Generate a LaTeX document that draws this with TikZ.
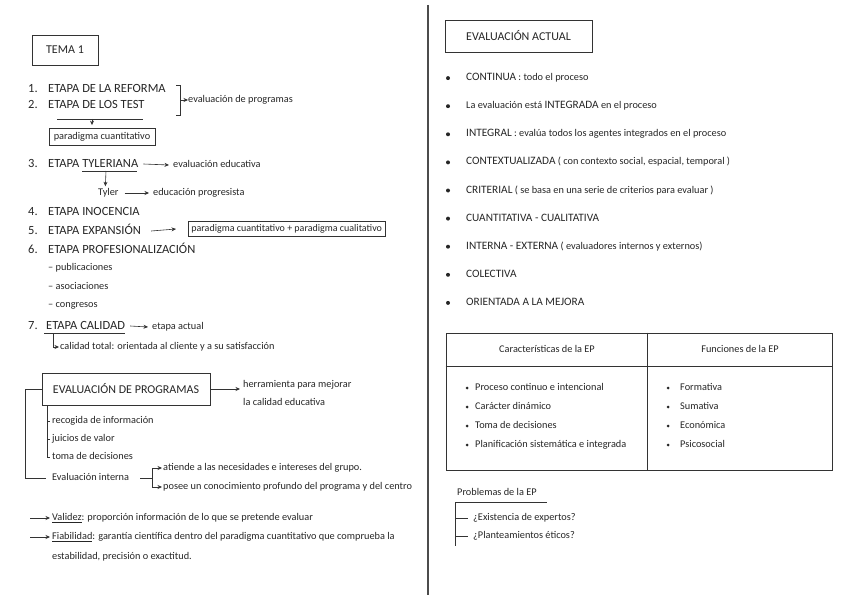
\documentclass[tikz,border=0pt]{standalone}
\usepackage{fontspec}
\setmainfont{Carlito}
\usetikzlibrary{arrows.meta,positioning}

\newcommand{\mayus}[1]{{\fontsize{11.3}{13}\selectfont #1}}

\begin{document}
\begin{tikzpicture}[x=1pt,y=-1pt,
  etapa/.style={anchor=west, inner sep=0pt, text=black!85, font=\fontsize{12.5}{14}\selectfont, text height=8.5pt, text depth=2.5pt},
  txt/.style={anchor=west, inner sep=0pt, text=black!85, font=\fontsize{10.3}{12}\selectfont, text height=7pt, text depth=2pt},
  box/.style={draw=black!80, line width=0.8pt, inner sep=0pt, text=black!85},
  ln/.style={draw=black!80, line width=0.6pt},
  arr/.style={ln, -{Stealth[length=4.5pt,width=4pt]}},
  dot/.style={circle, fill=black!85, inner sep=0pt, minimum size=4pt},
  sdot/.style={circle, fill=black!85, inner sep=0pt, minimum size=3pt}]
\useasboundingbox (0,0) rectangle (848,599);

% page divider
\coordinate (top) at (428,5);
\coordinate (bot) at (428,595);
\draw[line width=1.5pt, black!70] (top) -- (bot);

% ---- left column ----
\node[box, minimum width=66pt, minimum height=30pt, font=\fontsize{12}{14}\selectfont] (tema) at (65,50) {TEMA 1};

\node[etapa] (n1) at (28,90) {1.};
\node[etapa] (e1) at (48,90) {ETAPA DE LA REFORMA};
\node[etapa] (n2) at (28,106) {2.};
\node[etapa] (e2) at (48,106) {ETAPA DE LOS TEST};
\node[txt] (evp) at (188,100) {evaluación de programas};
\coordinate (br) at (180,100);
\draw[ln] (176,85) -- (180,85) -- (180,115) -- (176,115);
\draw[arr] (br) -- (evp.west);

\node[box, minimum width=106pt, minimum height=17pt, font=\fontsize{10.3}{12}\selectfont] (pc) at (102,137) {paradigma cuantitativo};
\coordinate (u2) at (92,119);
\draw[ln] (57,119) -- (143,119);
\draw[arr] (u2) -- ([xshift=-10pt,yshift=3pt]pc.north);

\node[etapa] (n3) at (28,164) {3.};
\node[etapa] (e3) at (48,164) {ETAPA TYLERIANA};
\node[txt] (eved) at (173,165) {evaluación educativa};
\draw[ln] (82,171) -- (137,171);
\draw[arr] ([xshift=5pt]e3.east) -- ([xshift=-4pt]eved.west);
\node[txt] (tyler) at (98,193) {Tyler};
\node[txt] (prog) at (153,193) {educación progresista};
\coordinate (u3) at (106,171);
\draw[arr] (u3) -- ([xshift=-3pt,yshift=2pt]tyler.north);
\draw[arr] ([xshift=6pt]tyler.east) -- ([xshift=-4pt]prog.west);

\node[etapa] (n4) at (28,212) {4.};
\node[etapa] (e4) at (48,212) {ETAPA INOCENCIA};
\node[etapa] (n5) at (28,231) {5.};
\node[etapa] (e5) at (48,231) {ETAPA EXPANSIÓN};
\node[box, anchor=west, minimum height=15pt, inner xsep=3pt, font=\fontsize{10}{12}\selectfont] (pcq) at (188,229) {paradigma cuantitativo + paradigma cualitativo};
\draw[arr] ([xshift=10pt]e5.east) -- ([xshift=-12pt]pcq.west);

\node[etapa] (n6) at (28,250) {6.};
\node[etapa] (e6) at (48,250) {ETAPA PROFESIONALIZACIÓN};
\node[txt] (pub) at (48,268) {– publicaciones};
\node[txt] (aso) at (48,287) {– asociaciones};
\node[txt] (con) at (48,305) {– congresos};

\node[etapa] (n7) at (28,326) {7.};
\node[etapa] (e7) at (46,326) {ETAPA CALIDAD};
\node[txt] (act) at (152,327) {etapa actual};
\node[txt] (cal) at (60,347) {calidad total: orientada al cliente y a su satisfacción};
\draw[ln] (44,333) -- (125,333);
\draw[arr] ([xshift=5pt]e7.east) -- ([xshift=-4pt]act.west);
\coordinate (u7) at (53,333);
\draw[arr] (u7) |- ([xshift=-1pt]cal.west);

% evaluacion de programas
\node[box, minimum width=168pt, minimum height=32pt, font=\fontsize{12}{14}\selectfont] (ep) at (126,389) {EVALUACIÓN DE PROGRAMAS};
\node[txt] (herr) at (243,385) {herramienta para mejorar};
\node[txt] (herr2) at (243,403) {la calidad educativa};
\draw[arr] (ep.east) -- ([xshift=-3pt]herr.west |- ep.east);

\node[txt] (rec) at (52,421) {recogida de información};
\node[txt] (jui) at (52,439) {juicios de valor};
\node[txt] (tom) at (52,457) {toma de decisiones};
\node[txt] (evi) at (52,478) {Evaluación interna};
\coordinate (bk) at (47,405);
\draw[ln] (bk) |- ([xshift=-2pt]tom.west);
\draw[ln] (bk |- rec.west) -- ([xshift=-2pt]rec.west);
\draw[ln] (bk |- jui.west) -- ([xshift=-2pt]jui.west);
\draw[ln] (ep.west) -- (25,389) |- ([xshift=-6pt]evi.west);

\node[txt] (ati) at (163,468) {atiende a las necesidades e intereses del grupo.};
\node[txt] (pos) at (163,487) {posee un conocimiento profundo del programa y del centro};
\coordinate (fk) at (152,478);
\draw[ln] (140,478) -- (fk);
\draw[ln] (fk |- ati.west) -- (fk |- pos.west);
\draw[arr] (fk |- ati.west) -- ([xshift=-1pt]ati.west);
\draw[arr] (fk |- pos.west) -- ([xshift=-1pt]pos.west);

\node[txt] (val) at (52,518) {\underline{Validez}: proporción información de lo que se pretende evaluar};
\node[txt] (fia) at (52,537) {\underline{Fiabilidad}: garantía científica dentro del paradigma cuantitativo que comprueba la};
\node[txt] (fia2) at (52,557) {estabilidad, precisión o exactitud.};
\coordinate (va) at (30,518);
\coordinate (fa) at (30,537);
\draw[arr] (va) -- ([xshift=-2pt]val.west);
\draw[arr] (fa) -- ([xshift=-2pt]fia.west);

% ---- right column ----
\node[box, minimum width=147pt, minimum height=32pt, font=\fontsize{12}{14}\selectfont] (ea) at (518.5,36) {EVALUACIÓN ACTUAL};

\foreach \t [count=\i] in {
  {\mayus{CONTINUA} : todo el proceso},
  {La evaluación está \mayus{INTEGRADA} en el proceso},
  {\mayus{INTEGRAL} : evalúa todos los agentes integrados en el proceso},
  {\mayus{CONTEXTUALIZADA} ( con contexto social, espacial, temporal )},
  {\mayus{CRITERIAL} ( se basa en una serie de criterios para evaluar )},
  {\mayus{CUANTITATIVA - CUALITATIVA}},
  {\mayus{INTERNA - EXTERNA} ( evaluadores internos y externos)},
  {\mayus{COLECTIVA}},
  {\mayus{ORIENTADA A LA MEJORA}}} {
  \node[dot] (b\i) at (448,50+28.1*\i) {};
  \node[txt] (c\i) at (466,50+28.1*\i) {\t};
}

% tabla
\node[draw=black!80, line width=0.8pt, minimum width=386pt, minimum height=137pt, inner sep=0pt] (tab) at (639,401.5) {};
\draw[ln] ([yshift=-34pt]tab.north west) -- ([yshift=-34pt]tab.north east);
\draw[ln] ([xshift=202pt]tab.north west) -- ([xshift=202pt]tab.south west);
\node[txt, anchor=center] (hc) at (547,350) {Características de la EP};
\node[txt, anchor=center] (hf) at (740,350) {Funciones de la EP};

\foreach \t [count=\i] in {Proceso continuo e intencional, Carácter dinámico, Toma de decisiones, Planificación sistemática e integrada} {
  \node[sdot] (cb\i) at (467,369+19*\i) {};
  \node[txt] (ct\i) at (475,369+19*\i) {\t};
}
\foreach \t [count=\i] in {Formativa, Sumativa, Económica, Psicosocial} {
  \node[sdot] (fb\i) at (668,369+19*\i) {};
  \node[txt] (ft\i) at (680,369+19*\i) {\t};
}

% problemas
\node[txt] (prob) at (457,493) {Problemas de la EP};
\node[txt] (exp) at (473,518) {¿Existencia de expertos?};
\node[txt] (eti) at (473,536) {¿Planteamientos éticos?};
\coordinate (pk) at (455,502);
\draw[ln] (pk) -- (547,502);
\draw[ln] (pk) -- (455,546);
\draw[ln] (pk |- exp.west) -- ([xshift=-5pt]exp.west);
\draw[ln] (pk |- eti.west) -- ([xshift=-5pt]eti.west);
\end{tikzpicture}
\end{document}
